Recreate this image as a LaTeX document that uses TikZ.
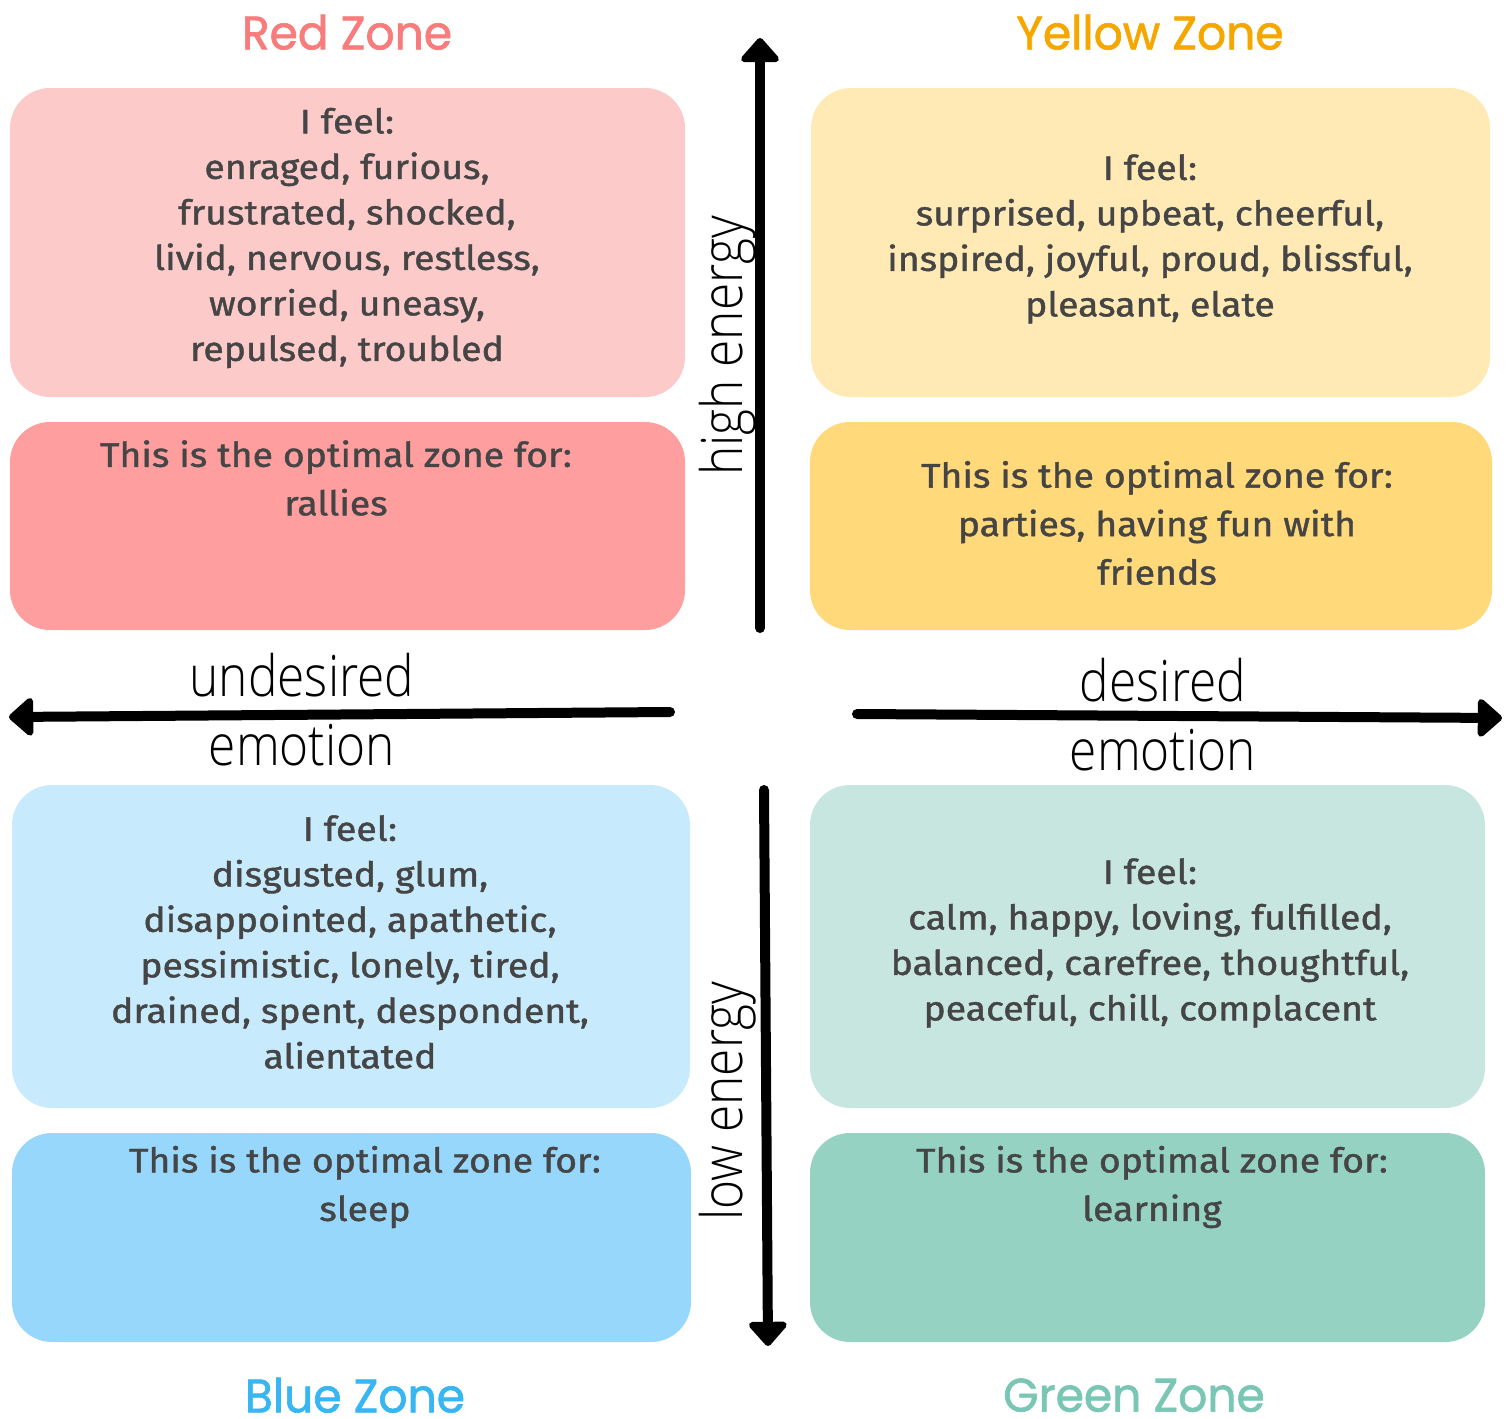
\documentclass[tikz,border=0pt]{standalone}
\usepackage{fontspec}
\setmainfont{Fira Sans}
\newfontfamily\bodyfont{Fira Sans}[FakeStretch=1.1,FakeBold=1.2]
\newfontfamily\titlefont{Poppins}[FakeBold=1.4,FakeStretch=0.97]
\newfontfamily\axisfont{Open Sans Light}[FakeStretch=0.87]
\usetikzlibrary{arrows.meta}
\definecolor{redT}{HTML}{F87C7B}
\definecolor{redL}{HTML}{FDCACA}
\definecolor{redD}{HTML}{FE9E9E}
\definecolor{yelT}{HTML}{F5A700}
\definecolor{yelL}{HTML}{FFEAB6}
\definecolor{yelD}{HTML}{FFD97A}
\definecolor{bluT}{HTML}{38B6F1}
\definecolor{bluL}{HTML}{C7EAFC}
\definecolor{bluD}{HTML}{98D7FC}
\definecolor{greT}{HTML}{78C6B3}
\definecolor{greL}{HTML}{C7E6DF}
\definecolor{greD}{HTML}{96D2C2}
\definecolor{txt}{HTML}{454545}
\tikzset{
  zonebox/.style={rounded corners=40pt},
  feeltext/.style={align=center, text=txt, inner sep=0pt, font=\bodyfont\fontsize{34}{45.5}\selectfont},
  opttext/.style={align=center, text=txt, inner sep=0pt, font=\bodyfont\fontsize{34}{48.5}\selectfont},
  zonetitle/.style={inner sep=0pt, text depth=0pt, font=\titlefont\fontsize{47}{54}\selectfont},
  axislabel/.style={inner sep=0pt, font=\axisfont\fontsize{57}{60}\selectfont},
  axisarrow/.style={line width=10pt, line cap=round, -{Triangle[width=44pt,length=26pt,round]}}
}
\begin{document}
\begin{tikzpicture}[x=1pt,y=-1pt]
\useasboundingbox (0,0) rectangle (1508,1419);
% boxes
\fill[redL, zonebox] (10,88) rectangle (685,397);
\fill[redD, zonebox] (10,422) rectangle (685,630);
\fill[yelL, zonebox] (811,88) rectangle (1490,397);
\fill[yelD, zonebox] (810,422) rectangle (1492,630);
\fill[bluL, zonebox] (12,785) rectangle (690,1108);
\fill[bluD, zonebox] (12,1133) rectangle (691,1342);
\fill[greL, zonebox] (810,785) rectangle (1485,1108);
\fill[greD, zonebox] (810,1133) rectangle (1485,1342);
% titles
\node[zonetitle, text=redT] (tred) at (347,32) {Red Zone};
\node[zonetitle, text=yelT] (tyel) at (1150,32) {Yellow Zone};
\node[zonetitle, text=bluT] (tblu) at (355,1395) {Blue Zone};
\node[zonetitle, text=greT] (tgre) at (1134,1395) {Green Zone};
% texts
\node[feeltext] (fred) at (347,238) {I feel:\\enraged, furious,\\frustrated, shocked,\\livid, nervous, restless,\\worried, uneasy,\\repulsed, troubled};
\node[opttext] (ored) at (336,478) {This is the optimal zone for:\\rallies};
\node[feeltext] (fyel) at (1150,239) {I feel:\\surprised, upbeat, cheerful,\\inspired, joyful, proud, blissful,\\pleasant, elate};
\node[opttext] (oyel) at (1157,523) {This is the optimal zone for:\\parties, having fun with\\friends};
\node[feeltext] (fblu) at (350,942) {I feel:\\disgusted, glum,\\disappointed, apathetic,\\pessimistic, lonely, tired,\\drained, spent, despondent,\\alientated};
\node[opttext] (oblu) at (365,1187) {This is the optimal zone for:\\sleep};
\node[feeltext] (fgre) at (1150,943) {I feel:\\calm, happy, loving, fulfilled,\\balanced, carefree, thoughtful,\\peaceful, chill, complacent};
\node[opttext] (ogre) at (1152,1187) {This is the optimal zone for:\\learning};
% axes
\coordinate (upS) at (760,628);
\coordinate (upE) at (760,38);
\coordinate (dnS) at (764,790);
\coordinate (dnE) at (768,1346);
\coordinate (lfS) at (670,712);
\coordinate (lfE) at (9,717);
\coordinate (rtS) at (857,714);
\coordinate (rtE) at (1502,718);
\draw[axisarrow] (upS) -- (upE);
\draw[axisarrow] (dnS) -- (dnE);
\draw[axisarrow] (lfS) -- (lfE);
\draw[axisarrow] (rtS) -- (rtE);
% axis labels
\node[axislabel, rotate=90] (hi) at (728,346) {high energy};
\node[axislabel, rotate=90] (lo) at (728,1101) {low energy};
\node[axislabel] (und) at (302,675) {undesired};
\node[axislabel] (emo1) at (302,745) {emotion};
\node[axislabel] (des) at (1163,680) {desired};
\node[axislabel] (emo2) at (1163,750) {emotion};
\end{tikzpicture}
\end{document}
